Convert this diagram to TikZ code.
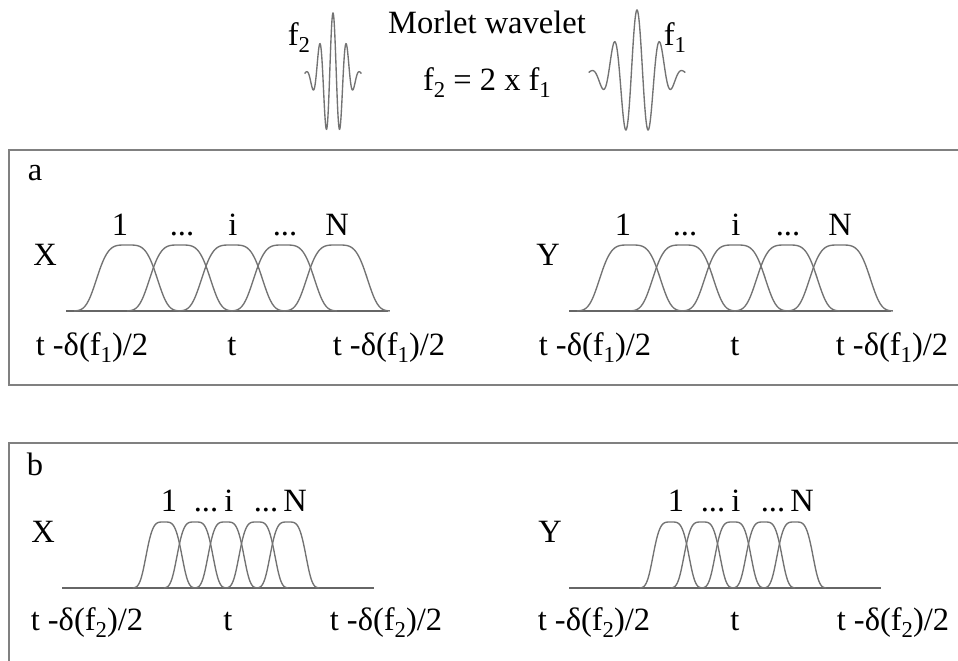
\documentclass[tikz,border=0pt]{standalone}
\usepackage{fontspec}
\setmainfont{Liberation Serif}
\usepackage{tikz}
\usetikzlibrary{positioning}

\newcommand{\lsub}[1]{\raisebox{-0.5ex}{\fontsize{10}{10}\selectfont #1}}

\tikzset{
  wave/.style={gray!90!black, line width=0.6pt},
  axis/.style={gray!80!black, line width=0.9pt},
  frame/.style={gray, line width=1pt},
  lbl/.style={anchor=base, inner sep=0pt, font=\fontsize{14.3}{17}\selectfont}
}

\begin{document}
\begin{tikzpicture}[x=0.44pt, y=-0.44pt]
    \useasboundingbox (0,0) rectangle (958,660);

    % Morlet wavelets
    \draw[wave] plot[domain=-2.1:2.1, samples=200, smooth, variable=\u]
        ({333+13.5*\u}, {76-63*cos(360*\u)*exp(-\u*\u/1.445)});
    \draw[wave] plot[domain=-2.1:2.1, samples=200, smooth, variable=\u]
        ({637+23*\u}, {75-65*cos(360*\u)*exp(-\u*\u/1.445)});
    \node[lbl] (ftwo) at (299,45) {f\lsub{2}};
    \node[lbl] (fone) at (675,45) {f\lsub{1}};
    \node[lbl] (title) at (487,33) {Morlet wavelet};
    \node[lbl] (ratio) at (487,90) {f\lsub{2} = 2 x f\lsub{1}};

    % frames
    \draw[frame] (970,150) -- (9,150) -- (9,385) -- (970,385);
    \draw[frame] (970,443) -- (9,443) -- (9,670);
    \node[lbl] (pa) at (35,180) {a};
    \node[lbl] (pb) at (35,475) {b};

    % panel a: scale f1
    \foreach \dx/\sig in {0/X, 503/Y} {
        \draw[axis] (66+\dx,311) -- (388+\dx,311);
        \foreach \c in {127,180,232,284,337}
            \draw[wave] plot[domain=-1.6:1.6, samples=60, smooth, variable=\v]
                ({\c+\dx+33*\v}, {311-66*exp(-(\v*\v)*(\v*\v))});
        \node[lbl] (a\sig) at (45+\dx,265) {\sig};
        \node[lbl] (a\sig1) at (120+\dx,235) {1};
        \node[lbl] (a\sig2) at (182+\dx,235) {...};
        \node[lbl] (a\sig3) at (233+\dx,235) {i};
        \node[lbl] (a\sig4) at (285+\dx,235) {...};
        \node[lbl] (a\sig5) at (337+\dx,235) {N};
        \node[lbl] (a\sig l) at (92+\dx,355) {t -δ(f\lsub{1})/2};
        \node[lbl] (a\sig m) at (232+\dx,355) {t};
        \node[lbl] (a\sig r) at (389+\dx,355) {t -δ(f\lsub{1})/2};
    }

    % panel b: scale f2
    \foreach \dx/\sig in {0/X, 507/Y} {
        \draw[axis] (62+\dx,588) -- (374+\dx,588);
        \foreach \c in {164,195,226,257,288}
            \draw[wave] plot[domain=-1.6:1.6, samples=60, smooth, variable=\v]
                ({\c+\dx+19.5*\v}, {588-66*exp(-(\v*\v)*(\v*\v))});
        \node[lbl] (b\sig) at (45+\dx-2,542) {\sig};
        \node[lbl] (b\sig1) at (169+\dx,511) {1};
        \node[lbl] (b\sig2) at (206+\dx,511) {...};
        \node[lbl] (b\sig3) at (229+\dx,511) {i};
        \node[lbl] (b\sig4) at (266+\dx,511) {...};
        \node[lbl] (b\sig5) at (295+\dx,511) {N};
        \node[lbl] (b\sig l) at (87+\dx,630) {t -δ(f\lsub{2})/2};
        \node[lbl] (b\sig m) at (228+\dx,630) {t};
        \node[lbl] (b\sig r) at (386+\dx,630) {t -δ(f\lsub{2})/2};
    }
\end{tikzpicture}
\end{document}
